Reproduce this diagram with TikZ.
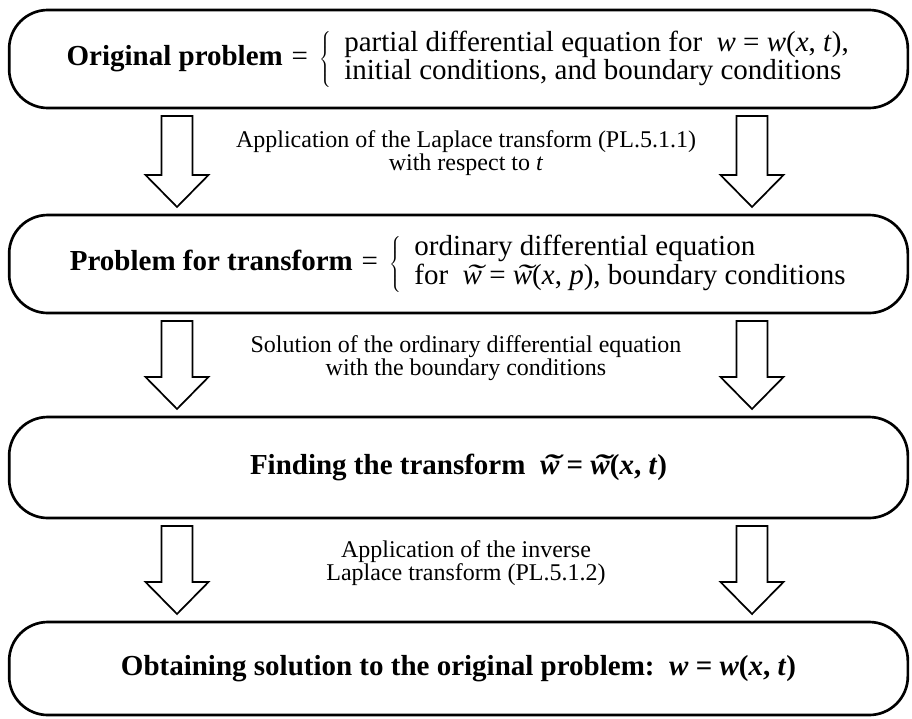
\documentclass[tikz,border=0pt]{standalone}
\usepackage{fontspec}
\setmainfont{Liberation Serif}
\usetikzlibrary{calc}

\newcommand{\cajafuente}{\fontsize{21.75}{20.25}\selectfont}
\newcommand{\notafuente}{\fontsize{18}{17.25}\selectfont}
\newcommand{\wtilde}{\makebox[0pt][l]{\hspace{0.1em}\scalebox{1.8}[1]{\symbol{"02DC}}}w}

\begin{document}
\begin{tikzpicture}[x=0.75pt, y=-0.75pt,
  caja/.style={draw, line width=2pt, rounded corners=29pt, minimum width=674pt,
               align=center, font=\cajafuente, outer sep=6pt},
  nota/.style={align=center, font=\notafuente},
  hueca/.style={draw, line width=1.3pt, fill=white,
                to path={let \p1=(\tikztostart), \p2=(\tikztotarget) in
                  -- (\x1+11.6pt,\y1) -- (\x1+11.6pt,\y2+24pt) -- (\x1+23.6pt,\y2+24pt)
                  -- (\x1,\y2) -- (\x1-23.6pt,\y2+24pt) -- (\x1-11.6pt,\y2+24pt)
                  -- (\x1-11.6pt,\y1) -- cycle}}]
  \useasboundingbox (0,0) rectangle (912,718);
  \node[caja, minimum height=73.5pt]  (orig) at (458.5,59)
    {\textbf{Original problem}\hspace{0.3em}=\hspace{0.4em}$\left\{\hspace{0.45em}\begin{tabular}{@{}l@{}}partial differential equation for\enspace\textit{w} = \textit{w}(\textit{x}, \textit{t}),\\initial conditions, and boundary conditions\end{tabular}\right.$};
  \node[caja, minimum height=73.5pt]  (prob) at (458.5,264)
    {\textbf{Problem for transform}\hspace{0.3em}=\hspace{0.4em}$\left\{\hspace{0.45em}\begin{tabular}{@{}l@{}}ordinary differential equation\\for\enspace\textit{\wtilde} = \textit{\wtilde}(\textit{x}, \textit{p}), boundary conditions\end{tabular}\right.$};
  \node[caja, minimum height=75.75pt] (hall) at (458.5,467.5)
    {\textbf{Finding the transform\enspace\textit{\wtilde} = \textit{\wtilde}(\textit{x}, \textit{t})}};
  \node[caja, minimum height=69.75pt] (sol)  at (458.5,668.5)
    {\textbf{Obtaining solution to the original problem:\enspace\textit{w} = \textit{w}(\textit{x}, \textit{t})}};
  \node[nota] (lap)  at (466,153) {Application of the Laplace transform (PL.5.1.1)\\with respect to \textit{t}};
  \node[nota] (ode)  at (466,358) {Solution of the ordinary differential equation\\with the boundary conditions};
  \node[nota] (inv)  at (466,563) {Application of the inverse\\Laplace transform (PL.5.1.2)};
  % flechas huecas
  \draw[hueca] (177,0 |- orig.south) to (177,0 |- prob.north);
  \draw[hueca] (752,0 |- orig.south) to (752,0 |- prob.north);
  \draw[hueca] (177,0 |- prob.south) to (177,0 |- hall.north);
  \draw[hueca] (752,0 |- prob.south) to (752,0 |- hall.north);
  \draw[hueca] (177,0 |- hall.south) to (177,0 |- sol.north);
  \draw[hueca] (752,0 |- hall.south) to (752,0 |- sol.north);
\end{tikzpicture}
\end{document}
